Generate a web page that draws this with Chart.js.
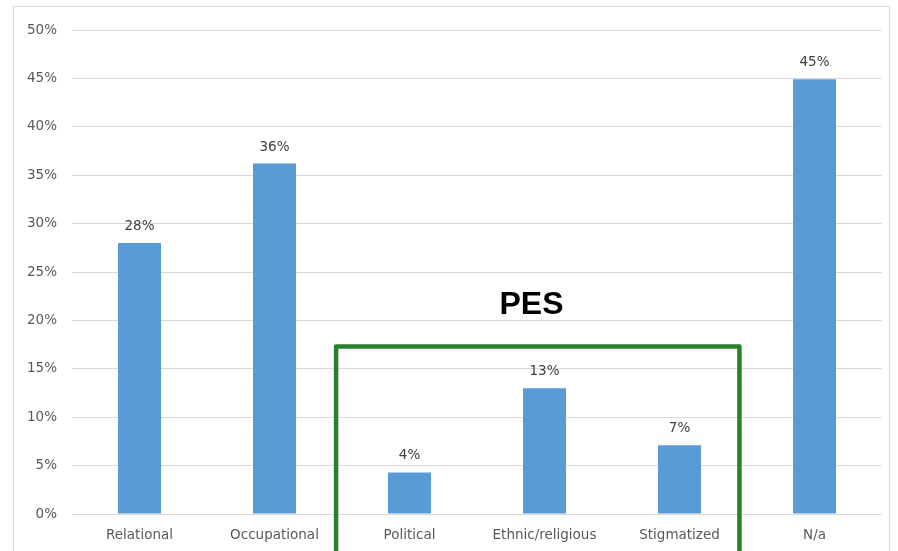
<!DOCTYPE html>
<html>
<head>
<meta charset="utf-8">
<script src="https://cdn.jsdelivr.net/npm/chart.js@4"></script>
<style>
html,body{margin:0;padding:0;background:#fff;}
#wrap{width:898px;height:551px;position:relative;}
</style>
</head>
<body>
<div id="wrap"><canvas id="c" width="898" height="551"></canvas></div>
<script>
const categories = ["Relational", "Occupational", "Political", "Ethnic/religious", "Stigmatized", "N/a"];
const values = [0.280, 0.362, 0.043, 0.130, 0.071, 0.449];
const valueLabels = ["28%", "36%", "4%", "13%", "7%", "45%"];
const yTicks = [0, 0.05, 0.10, 0.15, 0.20, 0.25, 0.30, 0.35, 0.40, 0.45, 0.50];
// PES group box in data units (category index / value)
const pesBox = { left: 1.456, right: 4.444, top: 0.173 };
const pesLabel = { text: "PES", x: 2.904, y: 0.207 };

const font = "DejaVu Sans";

const framePlugin = {
  id: 'frame',
  beforeDraw(chart) {
    const ctx = chart.ctx;
    ctx.save();
    ctx.fillStyle = '#fff';
    ctx.fillRect(0, 0, chart.width, chart.height);
    ctx.strokeStyle = '#d9d9d9';
    ctx.lineWidth = 1;
    ctx.strokeRect(13.5, 6.5, 876, 600);
    ctx.restore();
  }
};

const labelsPlugin = {
  id: 'vlabels',
  afterDatasetsDraw(chart) {
    const ctx = chart.ctx;
    const meta = chart.getDatasetMeta(0);
    ctx.save();
    ctx.font = '13.5px "' + font + '"';
    ctx.fillStyle = '#404040';
    ctx.textAlign = 'center';
    ctx.textBaseline = 'alphabetic';
    meta.data.forEach((bar, i) => {
      ctx.fillText(valueLabels[i], bar.x, bar.y - 13);
    });
    ctx.restore();
  }
};

const pesPlugin = {
  id: 'pes',
  afterDraw(chart) {
    const ctx = chart.ctx;
    const xs = chart.scales.x, ys = chart.scales.y;
    const l = xs.getPixelForValue(pesBox.left);
    const r = xs.getPixelForValue(pesBox.right);
    const t = ys.getPixelForValue(pesBox.top);
    const b = chart.height + 10;
    ctx.save();
    ctx.strokeStyle = '#2a7f2a';
    ctx.lineWidth = 4.5;
    ctx.lineJoin = 'round';
    ctx.beginPath();
    ctx.moveTo(l, b);
    ctx.lineTo(l, t);
    ctx.lineTo(r, t);
    ctx.lineTo(r, b);
    ctx.stroke();
    ctx.fillStyle = '#000';
    ctx.font = 'bold 32px "Liberation Sans", Arial, sans-serif';
    ctx.textAlign = 'center';
    ctx.textBaseline = 'alphabetic';
    ctx.fillText(pesLabel.text, xs.getPixelForValue(pesLabel.x), ys.getPixelForValue(pesLabel.y));
    ctx.restore();
  }
};

new Chart(document.getElementById('c'), {
  type: 'bar',
  data: {
    labels: categories,
    datasets: [{
      data: values,
      backgroundColor: '#5b9bd5',
      borderWidth: 0,
      barPercentage: 0.637,
      categoryPercentage: 0.5
    }]
  },
  options: {
    responsive: false,
    animation: false,
    devicePixelRatio: 1,
    layout: { padding: { top: 30, right: 16, left: 0, bottom: 0 } },
    plugins: { legend: { display: false }, tooltip: { enabled: false } },
    scales: {
      x: {
        grid: { display: false, drawTicks: false },
        border: { display: false },
        ticks: { color: '#595959', font: { family: font, size: 13.5 }, padding: 13, maxRotation: 0 },
        afterFit(s) { s.height = 37; }
      },
      y: {
        min: 0, max: 0.5,
        afterBuildTicks(s) { s.ticks = yTicks.map(v => ({ value: v })); },
        grid: { color: '#d9d9d9', lineWidth: 1, drawTicks: false },
        border: { display: false },
        ticks: {
          color: '#595959',
          font: { family: font, size: 13.5 },
          padding: 15,
          callback: v => Math.round(v * 100) + '%'
        },
        afterFit(s) { s.width = 72; }
      }
    }
  },
  plugins: [framePlugin, labelsPlugin, pesPlugin]
});
</script>
</body>
</html>
